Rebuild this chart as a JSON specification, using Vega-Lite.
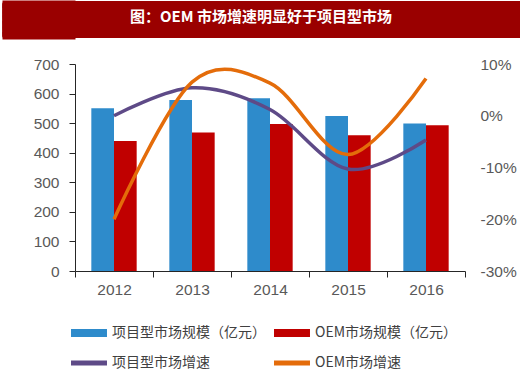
{
  "$schema": "https://vega.github.io/schema/vega-lite/v6.json",
  "padding": 0,
  "spacing": 18,
  "background": "white",
  "datasets": {
    "title": [{"t": "图：OEM 市场增速明显好于项目型市场", "pos": 0.5}],
    "bars": [
      {"year": "2012", "series": "项目型市场规模（亿元）", "value": 550},
      {"year": "2012", "series": "OEM市场规模（亿元）", "value": 440},
      {"year": "2013", "series": "项目型市场规模（亿元）", "value": 578},
      {"year": "2013", "series": "OEM市场规模（亿元）", "value": 468},
      {"year": "2014", "series": "项目型市场规模（亿元）", "value": 584},
      {"year": "2014", "series": "OEM市场规模（亿元）", "value": 497},
      {"year": "2015", "series": "项目型市场规模（亿元）", "value": 524},
      {"year": "2015", "series": "OEM市场规模（亿元）", "value": 459},
      {"year": "2016", "series": "项目型市场规模（亿元）", "value": 499},
      {"year": "2016", "series": "OEM市场规模（亿元）", "value": 493}
    ],
    "growth": [
      {"year": "2012", "series": "项目型市场增速", "value": 0.0},
      {"year": "2013", "series": "项目型市场增速", "value": 0.054},
      {"year": "2014", "series": "项目型市场增速", "value": 0.012},
      {"year": "2015", "series": "项目型市场增速", "value": -0.103},
      {"year": "2016", "series": "项目型市场增速", "value": -0.047},
      {"year": "2012", "series": "OEM市场增速", "value": -0.2},
      {"year": "2013", "series": "OEM市场增速", "value": 0.065},
      {"year": "2014", "series": "OEM市场增速", "value": 0.063},
      {"year": "2015", "series": "OEM市场增速", "value": -0.075},
      {"year": "2016", "series": "OEM市场增速", "value": 0.072}
    ]
  },
  "config": {"view": {"stroke": null}, "font": "Liberation Sans"},
  "vconcat": [
    {
      "width": 445,
      "height": 37,
      "view": {"fill": "#9A0000", "stroke": null},
      "data": {"name": "title"},
      "mark": {"type": "text", "color": "white", "fontSize": 15, "fontWeight": "bold", "font": "Noto Sans CJK SC", "dy": -3, "dx": -36.5},
      "encoding": {
        "text": {"field": "t", "type": "nominal"},
        "y": {"field": "pos", "type": "quantitative", "scale": {"domain": [0, 1], "nice": false},
              "axis": {"title": null, "labels": false, "domain": false, "grid": false, "tickSize": 73, "tickWidth": 4, "tickColor": "#9A0000",
                       "values": [0.0405, 0.0676, 0.0946, 0.1216, 0.1486, 0.1757, 0.2027, 0.2297, 0.2568, 0.2838, 0.3108, 0.3378, 0.3649, 0.3919, 0.4189, 0.4459, 0.473, 0.5, 0.527, 0.5541, 0.5811, 0.6081, 0.6351, 0.6622, 0.6892, 0.7162, 0.7432, 0.7703, 0.7973, 0.8243, 0.8514, 0.8784, 0.9054, 0.9324, 0.9595]}}
      }
    },
    {
      "width": 390,
      "height": 207,
      "layer": [
        {
          "data": {"name": "bars"},
          "mark": {"type": "bar"},
          "encoding": {
            "x": {
              "field": "year", "type": "ordinal",
              "scale": {"paddingInner": 0, "paddingOuter": 0},
              "axis": {"title": null, "labelAngle": 0, "tickBand": "extent", "tickSize": 6, "labelPadding": 5, "labelFontSize": 15.5, "labelColor": "#595959", "domainColor": "#262626", "tickColor": "#262626", "grid": false}
            },
            "xOffset": {"field": "series", "type": "nominal", "sort": ["项目型市场规模（亿元）", "OEM市场规模（亿元）"], "scale": {"paddingOuter": 0.72, "paddingInner": 0}},
            "y": {
              "field": "value", "type": "quantitative",
              "scale": {"domain": [0, 700], "nice": false},
              "axis": {"title": null, "values": [0, 100, 200, 300, 400, 500, 600, 700], "tickSize": 6, "labelPadding": 10, "labelFontSize": 15.5, "labelColor": "#595959", "domainColor": "#262626", "tickColor": "#262626", "grid": false, "minExtent": 75}
            },
            "color": {
              "field": "series", "type": "nominal",
              "scale": {"domain": ["项目型市场规模（亿元）", "OEM市场规模（亿元）", "项目型市场增速", "OEM市场增速"], "range": ["#2E8BCB", "#C00000", "#5E4A87", "#E46C0A"]},
              "legend": {
                "orient": "none", "legendX": 7, "legendY": 325, "direction": "horizontal", "columns": 2, "title": null,
                "symbolType": "M-2.57,-0.57H2.57V0.57H-2.57Z", "symbolSize": 196, "symbolStrokeWidth": 0,
                "labelOffset": 16, "labelFontSize": 14, "labelFont": "Noto Sans CJK SC", "labelColor": "#404040",
                "columnPadding": 8, "rowPadding": 16, "labelLimit": 300,
                "encode": {"symbols": {"update": {
                  "fill": {"scale": "color", "field": "value"},
                  "opacity": {"value": 1},
                  "shape": {"signal": "indexof(['项目型市场增速', 'OEM市场增速'], datum.value) >= 0 ? 'M-2.57,-0.36H2.57V0.36H-2.57Z' : 'M-2.57,-0.57H2.57V0.57H-2.57Z'"}
                }}}
              }
            }
          }
        },
        {
          "data": {"name": "growth"},
          "mark": {"type": "line", "interpolate": "cardinal", "strokeWidth": 3.5},
          "encoding": {
            "x": {"field": "year", "type": "ordinal"},
            "y": {
              "field": "value", "type": "quantitative",
              "scale": {"domain": [-0.3, 0.1], "nice": false},
              "axis": {"orient": "right", "title": null, "values": [-0.3, -0.2, -0.1, 0, 0.1], "format": ".0%", "labelExpr": "replace(datum.label, '−', '-')", "domain": false, "ticks": false, "labelPadding": 15, "labelFontSize": 15.5, "labelColor": "#595959", "grid": false}
            },
            "color": {"field": "series", "type": "nominal"}
          }
        }
      ],
      "resolve": {"scale": {"y": "independent"}}
    }
  ]
}
